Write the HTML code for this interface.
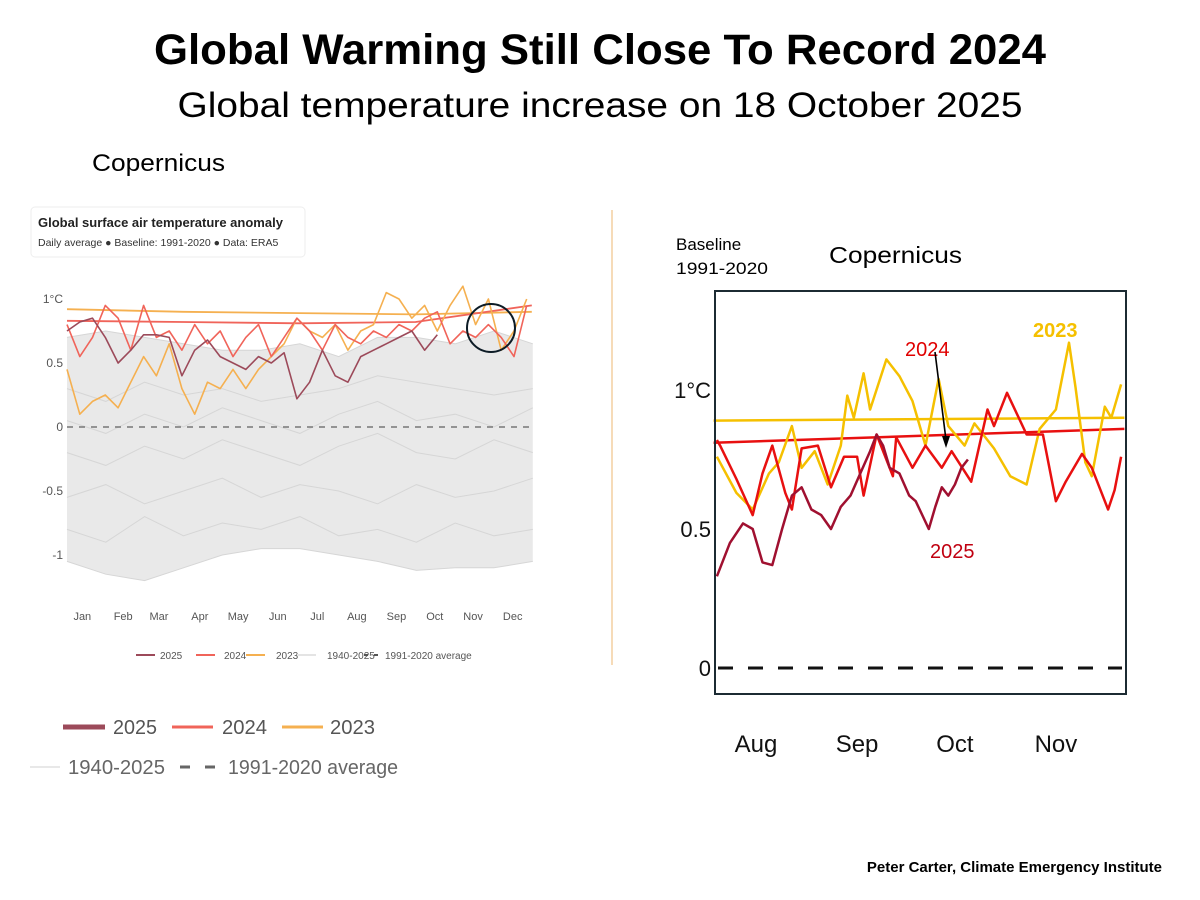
<!DOCTYPE html>
<html><head><meta charset="utf-8"><style>
body{margin:0;background:#fff;}
svg{display:block;font-family:"Liberation Sans",sans-serif;}
</style></head><body>
<svg width="1200" height="900" viewBox="0 0 1200 900">
<text x="600" y="64" text-anchor="middle" font-size="43" font-weight="bold" fill="#000" textLength="892" lengthAdjust="spacingAndGlyphs">Global Warming Still Close To Record 2024</text>
<text x="600" y="117" text-anchor="middle" font-size="35" fill="#000" textLength="845" lengthAdjust="spacingAndGlyphs">Global temperature increase on 18 October 2025</text>
<text x="92" y="171" font-size="24" fill="#000" textLength="133" lengthAdjust="spacingAndGlyphs">Copernicus</text>

<g>
<rect x="31" y="207" width="274" height="50" rx="4" fill="#fff" stroke="#eee"/>
<text x="38" y="227" font-size="13" font-weight="bold" fill="#222">Global surface air temperature anomaly</text>
<text x="38" y="246" font-size="10.5" fill="#333">Daily average ● Baseline: 1991-2020 ● Data: ERA5</text>
<line x1="612" y1="210" x2="612" y2="665" stroke="#f3cfa0" stroke-width="1.5"/>
<g id="lc"></g>
</g>

<g>
<text x="676" y="250" font-size="17" fill="#000">Baseline</text>
<text x="676" y="274" font-size="17" fill="#000" textLength="92" lengthAdjust="spacingAndGlyphs">1991-2020</text>
<text x="829" y="263" font-size="23" fill="#000" textLength="133" lengthAdjust="spacingAndGlyphs">Copernicus</text>
<g id="rc"></g>
<rect x="715" y="291" width="411" height="403" fill="none" stroke="#1c2b33" stroke-width="2"/>
<text x="1033" y="337" font-size="20" font-weight="bold" fill="#f5c000">2023</text>
<text x="905" y="356" font-size="20" fill="#e00000">2024</text>
<text x="930" y="558" font-size="20" fill="#c00010">2025</text>
<line x1="935" y1="352" x2="946" y2="440" stroke="#000" stroke-width="1.6"/>
<polygon points="946,448 942,436 950,436" fill="#000"/>
</g>

<g>
<line x1="63" y1="727" x2="105" y2="727" stroke="#9c4a5a" stroke-width="5"/>
<text x="113" y="734" font-size="20" fill="#555" textLength="44" lengthAdjust="spacingAndGlyphs">2025</text>
<line x1="172" y1="727" x2="213" y2="727" stroke="#f0645a" stroke-width="3"/>
<text x="222" y="734" font-size="20" fill="#555" textLength="45" lengthAdjust="spacingAndGlyphs">2024</text>
<line x1="282" y1="727" x2="323" y2="727" stroke="#f5b050" stroke-width="3"/>
<text x="330" y="734" font-size="20" fill="#555" textLength="45" lengthAdjust="spacingAndGlyphs">2023</text>
<line x1="30" y1="767" x2="60" y2="767" stroke="#e8e8e8" stroke-width="2"/>
<text x="68" y="774" font-size="20" fill="#666" textLength="97" lengthAdjust="spacingAndGlyphs">1940-2025</text>
<line x1="180" y1="767" x2="216" y2="767" stroke="#666" stroke-width="3" stroke-dasharray="10,15"/>
<text x="228" y="774" font-size="20" fill="#666" textLength="170" lengthAdjust="spacingAndGlyphs">1991-2020 average</text>
</g>

<text x="1162" y="872" text-anchor="end" font-size="15" font-weight="bold" fill="#000">Peter Carter, Climate Emergency Institute</text>
</svg>
<script>
// ---------- left chart data ----------
const leftMonths = ["Jan","Feb","Mar","Apr","May","Jun","Jul","Aug","Sep","Oct","Nov","Dec"];
const leftMonthDays = [12,44,72,104,134,165,196,227,258,288,318,349];
const leftTicks = [1,0.5,0,-0.5,-1];
const leftTickLabels = ["1°C","0.5","0","-0.5","-1"];
const s2025 = [0.75,0.82,0.85,0.70,0.50,0.60,0.72,0.72,0.70,0.40,0.60,0.68,0.55,0.50,0.45,0.55,0.50,0.58,0.22,0.35,0.60,0.40,0.35,0.55,0.60,0.65,0.70,0.75,0.60,0.72];
const s2024 = [0.80,0.55,0.70,0.95,0.85,0.60,0.95,0.70,0.75,0.60,0.80,0.65,0.75,0.55,0.70,0.80,0.55,0.70,0.85,0.75,0.60,0.80,0.70,0.65,0.75,0.70,0.80,0.75,0.85,0.90,0.65,0.75,0.70,0.80,0.70,0.55,0.95];
const s2023 = [0.45,0.10,0.20,0.25,0.15,0.35,0.55,0.40,0.65,0.30,0.10,0.35,0.30,0.45,0.30,0.45,0.55,0.65,0.85,0.75,0.70,0.80,0.60,0.75,0.80,1.05,1.00,0.85,0.95,0.75,0.95,1.10,0.80,1.00,0.60,0.75,1.00];
const mean2023L = [0.92,0.90,0.89,0.88,0.90];
const mean2024L = [0.83,0.82,0.81,0.82,0.95];
const grayUpper = [0.70,0.75,0.70,0.65,0.60,0.60,0.65,0.55,0.70,0.70,0.65,0.75,0.65];
const grayLower = [-1.05,-1.15,-1.20,-1.10,-1.00,-0.95,-0.95,-1.00,-1.05,-1.12,-1.10,-1.10,-1.05];
const grayA = [0.30,0.20,0.35,0.25,0.30,0.20,0.25,0.30,0.40,0.35,0.30,0.25,0.30];
const grayB = [-0.20,-0.30,-0.15,-0.25,-0.10,-0.20,-0.30,-0.15,-0.05,-0.20,-0.25,-0.10,-0.20];
const grayC = [-0.55,-0.45,-0.60,-0.50,-0.40,-0.55,-0.45,-0.50,-0.60,-0.45,-0.55,-0.50,-0.40];
const grayD = [-0.80,-0.90,-0.70,-0.85,-0.75,-0.80,-0.70,-0.85,-0.80,-0.90,-0.75,-0.85,-0.80];
const grayE = [0.05,-0.05,0.10,0.00,0.15,0.05,-0.05,0.10,0.20,0.05,0.10,0.00,0.15];
// ---------- right chart data ----------
const rightMonths = ["Aug","Sep","Oct","Nov"];
const rightMonthDays = [14,45,75,106];
const rightTicks = [1,0.5,0];
const rightTickLabels = ["1°C","0.5","0"];
const r2025d = [2,6,10,13,16,19,22,25,28,31,34,37,40,43,46,49,51,53,55,58,61,63,65,67,69,71,73,75,77,79];
const r2025v = [0.33,0.45,0.52,0.50,0.38,0.37,0.50,0.62,0.65,0.57,0.55,0.50,0.58,0.62,0.70,0.78,0.84,0.80,0.72,0.70,0.62,0.60,0.55,0.50,0.58,0.65,0.62,0.66,0.72,0.75];
const r2024d = [2,3,8,13,16,19,23,25,28,33,37,41,45,47,51,56,57,62,66,71,74,80,85,87,91,97,102,106,109,114,117,122,124,126];
const r2024v = [0.82,0.80,0.68,0.55,0.70,0.80,0.63,0.57,0.79,0.80,0.65,0.76,0.76,0.62,0.84,0.69,0.83,0.72,0.80,0.72,0.78,0.67,0.93,0.87,0.99,0.84,0.84,0.60,0.67,0.77,0.72,0.57,0.64,0.76];
const r2023d = [2,8,13,18,21,25,28,32,36,40,42,44,47,49,54,58,62,66,70,73,78,81,87,92,97,101,106,110,112,115,117,121,123,126];
const r2023v = [0.76,0.63,0.57,0.70,0.74,0.87,0.72,0.78,0.66,0.80,0.98,0.90,1.06,0.93,1.11,1.05,0.96,0.80,1.04,0.87,0.80,0.88,0.79,0.69,0.66,0.86,0.93,1.17,1.01,0.74,0.69,0.94,0.90,1.02];
const rMeanDays = [1,127];
const rMean2023 = [0.89,0.90];
const rMean2024 = [0.81,0.86];

const NS="http://www.w3.org/2000/svg";
function mk(parent,tag,attrs){const e=document.createElementNS(NS,tag);for(const k in attrs)e.setAttribute(k,attrs[k]);parent.appendChild(e);return e;}
// left axes
const lx=d=>67+d*1.277, ly=v=>427-v*128;
const lc=document.getElementById('lc');
function lpath(vals,step){return vals.map((v,i)=>(i?'L':'M')+lx(i*step).toFixed(1)+','+ly(v).toFixed(1)).join('');}
let band='M'+grayUpper.map((v,i)=>lx(i*30.4).toFixed(1)+','+ly(v).toFixed(1)).join('L');
for(let i=grayLower.length-1;i>=0;i--)band+='L'+lx(i*30.4).toFixed(1)+','+ly(grayLower[i]).toFixed(1);
const bandEl=mk(lc,'path',{d:band+'Z',fill:'#e9e9e9'});


[grayA,grayB,grayC,grayD,grayE,grayUpper,grayLower].forEach(g=>{
 const el=mk(lc,'path',{d:lpath(g,30.4),fill:'none',stroke:'#d6d6d6','stroke-width':1});
 
 
});
leftTicks.forEach((t,i)=>{
 const el=mk(lc,'text',{x:63,y:ly(t)+4,'text-anchor':'end','font-size':12,fill:'#555'});
 el.textContent=leftTickLabels[i];
 
 
});
const z=mk(lc,'line',{x1:67,x2:533,y1:ly(0),y2:ly(0),stroke:'#777','stroke-width':1.5,'stroke-dasharray':'6,6'});


leftMonths.forEach((m,i)=>{
 const el=mk(lc,'text',{x:lx(leftMonthDays[i]),y:620,'text-anchor':'middle','font-size':11,fill:'#555'});
 el.textContent=m;
 
 
});
[[mean2023L,'#f5b050','mean-2023'],[mean2024L,'#f0645a','mean-2024']].forEach(([a,c,n])=>{
 const el=mk(lc,'path',{d:lpath(a,91),fill:'none',stroke:c,'stroke-width':1.8});
 
 
});
[[s2023,'#f5b050','series-2023'],[s2024,'#f0645a','series-2024'],[s2025,'#9c4a5a','series-2025']].forEach(([a,c,n])=>{
 const el=mk(lc,'path',{d:lpath(a,10),fill:'none',stroke:c,'stroke-width':1.6,'stroke-linejoin':'round'});
 
 
});
const circ=mk(lc,'circle',{cx:491,cy:328,r:24,fill:'none',stroke:'#0d1c26','stroke-width':2});


// small legend
const sl=[['#9c4a5a','2025',136,160],['#f0645a','2024',196,224],['#f5b050','2023',246,276],['#e4e4e4','1940-2025',297,327]];
sl.forEach(([c,t,x,tx])=>{
 const l=mk(lc,'line',{x1:x,x2:x+19,y1:655,y2:655,stroke:c,'stroke-width':2});
 
 
 const e=mk(lc,'text',{x:tx,y:659,'font-size':10,fill:'#555'});
 e.textContent=t;
 
 
});
const sd=mk(lc,'line',{x1:364,x2:378,y1:655,y2:655,stroke:'#555','stroke-width':2,'stroke-dasharray':'4,6'});


const st=mk(lc,'text',{x:385,y:659,'font-size':10,fill:'#555'});
st.textContent='1991-2020 average';



// right chart
const rx=d=>756+(d-14)*3.26, ry=v=>668-v*278;
const rc=document.getElementById('rc');
function rpath(ds,vs){return ds.map((d,i)=>(i?'L':'M')+rx(d).toFixed(1)+','+ry(vs[i]).toFixed(1)).join('');}
rightTicks.forEach((t,i)=>{
 const el=mk(rc,'text',{x:711,y:ry(t)+8,'text-anchor':'end','font-size':22,fill:'#111'});
 el.textContent=rightTickLabels[i];
 
 
});
rightMonths.forEach((m,i)=>{
 const el=mk(rc,'text',{x:rx(rightMonthDays[i]),y:752,'text-anchor':'middle','font-size':24,fill:'#111'});
 el.textContent=m;
 
 
});
const rz=mk(rc,'line',{x1:718,x2:1122,y1:ry(0),y2:ry(0),stroke:'#111','stroke-width':3,'stroke-dasharray':'15,15'});


[[rMeanDays,rMean2023,'#f5c000','right-mean-2023'],[rMeanDays,rMean2024,'#e81010','right-mean-2024']].forEach(([d,v,c,n])=>{
 const el=mk(rc,'path',{d:rpath(d,v),fill:'none',stroke:c,'stroke-width':2.5});
 
 
});
[[r2023d,r2023v,'#f5c000','right-series-2023'],[r2024d,r2024v,'#e81010','right-series-2024'],[r2025d,r2025v,'#a01030','right-series-2025']].forEach(([d,v,c,n])=>{
 const el=mk(rc,'path',{d:rpath(d,v),fill:'none',stroke:c,'stroke-width':2.5,'stroke-linejoin':'round'});
 
 
});
</script>
</body></html>
